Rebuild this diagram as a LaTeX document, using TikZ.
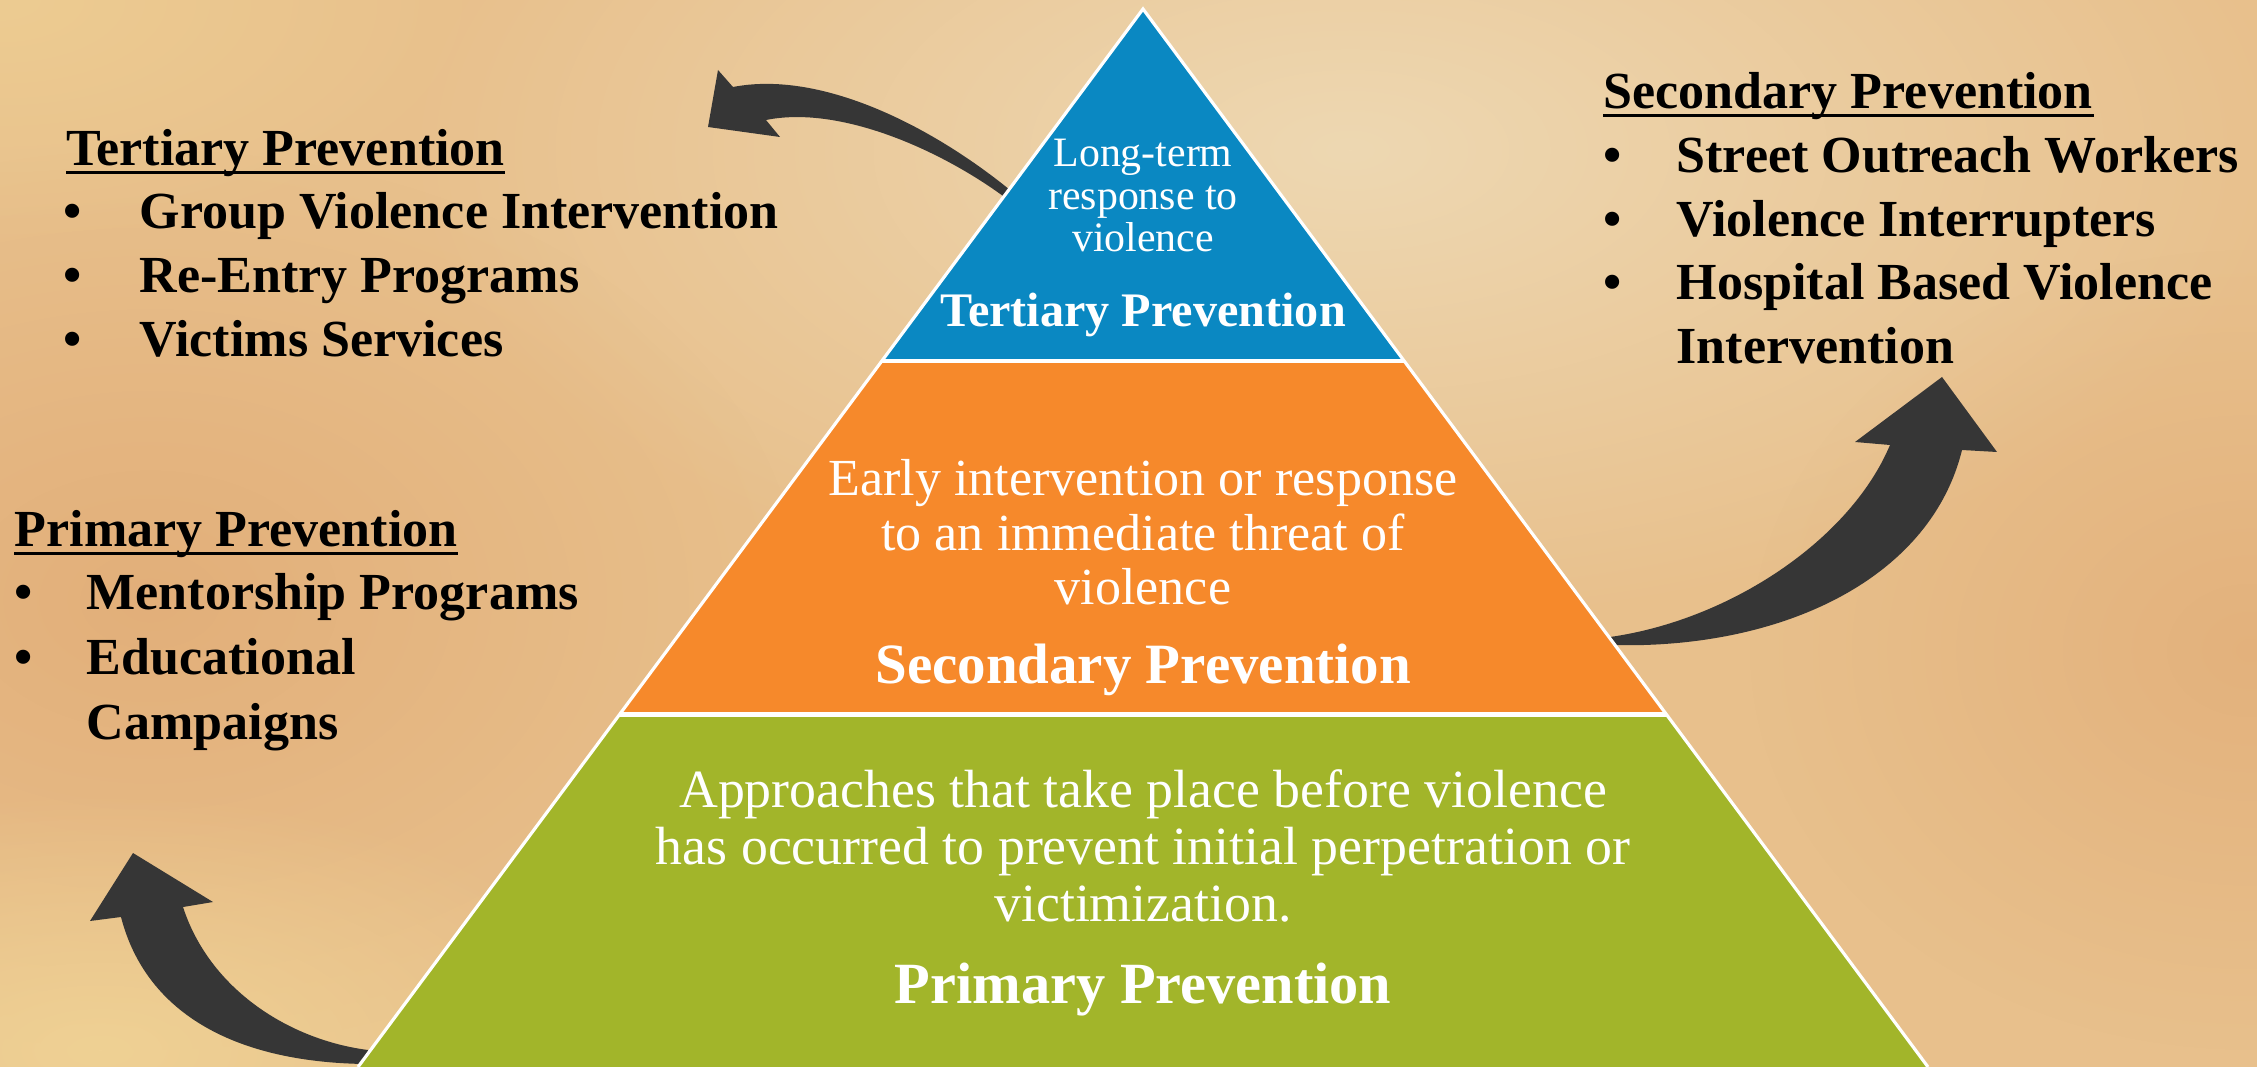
\documentclass[tikz,border=0pt]{standalone}
\usepackage{fontspec}
\setmainfont{Liberation Serif}
\usetikzlibrary{calc,fadings}

\definecolor{tierblue}{HTML}{0A88C2}
\definecolor{tierorange}{HTML}{F6892B}
\definecolor{tiergreen}{HTML}{A2B52A}
\definecolor{arrowgray}{HTML}{363636}
\definecolor{woodbase}{HTML}{E8C08C}
\definecolor{woodlight}{HTML}{EED8B2}
\definecolor{woodorange}{HTML}{E0A872}
\definecolor{woodyellow}{HTML}{EFD194}

\tikzfading[name=softspot, inner color=transparent!0, outer color=transparent!100]

\begin{document}
\begin{tikzpicture}[x=0.01cm, y=-0.01cm]
%node styles
\tikzstyle{heading}=[anchor=base west, inner sep=0pt, font=\fontsize{14.8}{17}\selectfont\bfseries]
\tikzstyle{item}=[anchor=base west, inner sep=0pt, font=\fontsize{14.8}{17}\selectfont\bfseries]
\tikzstyle{dot}=[anchor=base, inner sep=0pt, font=\fontsize{14.8}{17}\selectfont\bfseries]
\tikzstyle{descr}=[anchor=base, inner sep=0pt, align=center, text=white]
\tikzstyle{tiertitle}=[anchor=base, inner sep=0pt, text=white]
\tikzstyle{bigarrow}=[fill=arrowgray]
\tikzstyle{ul}=[line width=0.7pt]

%wood background
\useasboundingbox (0,0) rectangle (2257,1067);
\fill[woodbase] (0,0) rectangle (2257,1067);
\fill[woodlight, path fading=softspot] (1350,150) ellipse (950 and 480);
\fill[woodorange, path fading=softspot, fill opacity=0.7] (150,600) ellipse (650 and 450);
\fill[woodorange, path fading=softspot, fill opacity=0.6] (2250,650) ellipse (500 and 400);
\fill[woodyellow, path fading=softspot] (100,1050) ellipse (550 and 260);
\fill[woodyellow, path fading=softspot, fill opacity=0.7] (0,0) ellipse (500 and 250);

%curved arrows
\fill[bigarrow] (1010,190) .. controls (930,125) and (820,70) .. (733,87) -- (718,70) -- (708,127) -- (780,137) -- (766,120) .. controls (840,105) and (940,150) .. (1003,196) -- cycle;
\fill[bigarrow] (1610,637) .. controls (1730,620) and (1850,540) .. (1890,445) -- (1855,442) -- (1942,377) -- (1997,452) -- (1962,450) .. controls (1930,580) and (1780,650) .. (1610,645) -- cycle;
\fill[bigarrow] (365,1064) .. controls (230,1062) and (145,1010) .. (121,917) -- (90,921) -- (133,853) -- (213,902) -- (183,907) .. controls (210,990) and (290,1040) .. (368,1050) -- cycle;

%pyramid
\coordinate (apex) at (1143,9);
\coordinate (bl) at (358,1067);
\coordinate (br) at (1928,1067);
\coordinate (t1l) at ($(apex)!0.3327!(bl)$);
\coordinate (t1r) at ($(apex)!0.3327!(br)$);
\coordinate (t2l) at ($(apex)!0.6664!(bl)$);
\coordinate (t2r) at ($(apex)!0.6664!(br)$);
\fill[tierblue] (apex) -- (t1r) -- (t1l) -- cycle;
\fill[tierorange] (t1l) -- (t1r) -- (t2r) -- (t2l) -- cycle;
\fill[tiergreen] (t2l) -- (t2r) -- (br) -- (bl) -- cycle;
\draw[white, line width=0.9pt] (bl) -- (apex) -- (br);
\draw[white, line width=1.4pt] (t1l) -- (t1r);
\draw[white, line width=1.4pt] (t2l) -- (t2r);

%tier texts (base = last line)
\node[descr, font=\fontsize{11.9}{12.2}\selectfont] (tertdesc) at (1143,252) {Long-term\\response to\\violence};
\node[tiertitle, font=\fontsize{13.7}{16}\selectfont\bfseries] (terttitle) at (1143,327) {Tertiary Prevention};
\node[descr, font=\fontsize{14.8}{15.5}\selectfont] (secdesc) at (1143,605) {Early intervention or response\\to an immediate threat of\\violence};
\node[tiertitle, font=\fontsize{16.2}{19}\selectfont\bfseries] (sectitle) at (1143,683) {Secondary Prevention};
\node[descr, font=\fontsize{15.3}{16.2}\selectfont] (primdesc) at (1143,921) {Approaches that take place before violence\\has occurred to prevent initial perpetration or\\victimization.};
\node[tiertitle, font=\fontsize{16.6}{19}\selectfont\bfseries] (primtitle) at (1143,1003) {Primary Prevention};

%tertiary list
\node[heading] (terthead) at (66,166) {Tertiary Prevention};
\draw[ul] ([yshift=-1.8pt]terthead.base west) -- ([yshift=-1.8pt]terthead.base east);
\node[dot] (tertdot1) at (73,229) {\textbullet};
\node[item] (tert1) at (139,229) {Group Violence Intervention};
\node[dot] (tertdot2) at (73,293) {\textbullet};
\node[item] (tert2) at (139,293) {Re-Entry Programs};
\node[dot] (tertdot3) at (73,357) {\textbullet};
\node[item] (tert3) at (139,357) {Victims Services};

%secondary list
\node[heading] (sechead) at (1603,109) {Secondary Prevention};
\draw[ul] ([yshift=-1.8pt]sechead.base west) -- ([yshift=-1.8pt]sechead.base east);
\node[dot] (secdot1) at (1613,173) {\textbullet};
\node[item] (sec1) at (1676,173) {Street Outreach Workers};
\node[dot] (secdot2) at (1613,237) {\textbullet};
\node[item] (sec2) at (1676,237) {Violence Interrupters};
\node[dot] (secdot3) at (1613,300) {\textbullet};
\node[item] (sec3) at (1676,300) {Hospital Based Violence};
\node[item] (sec3b) at (1676,364) {Intervention};

%primary list
\node[heading] (primhead) at (14,547) {Primary Prevention};
\draw[ul] ([yshift=-1.8pt]primhead.base west) -- ([yshift=-1.8pt]primhead.base east);
\node[dot] (primdot1) at (24,610) {\textbullet};
\node[item] (prim1) at (86,610) {Mentorship Programs};
\node[dot] (primdot2) at (24,675) {\textbullet};
\node[item] (prim2) at (86,675) {Educational};
\node[item] (prim2b) at (86,739) {Campaigns};

\end{tikzpicture}
\end{document}
